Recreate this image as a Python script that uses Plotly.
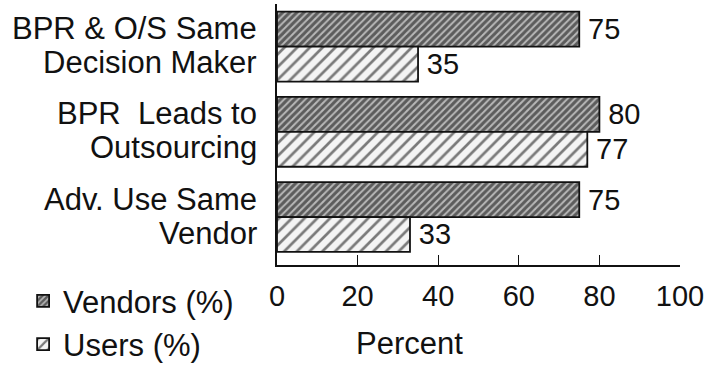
import plotly.graph_objects as go

# Survey items (two-line labels) and percentages per respondent group
categories = ["BPR & O/S Same Decision Maker", "BPR  Leads to Outsourcing", "Adv. Use Same Vendor"]
label_lines = [["BPR & O/S Same", "Decision Maker"],
               ["BPR  Leads to", "Outsourcing"],
               ["Adv. Use Same", "Vendor"]]
vendors = [75, 80, 75]
users = [35, 77, 33]
x_ticks = [0, 20, 40, 60, 80, 100]

FONT = "Liberation Sans, Arial, Helvetica, sans-serif"
INK = "#111111"

fig = go.Figure()
fig.add_trace(go.Bar(
    name="Vendors (%)", y=categories, x=vendors, orientation="h",
    marker=dict(color="white", line=dict(color=INK, width=1.8),
                pattern=dict(shape="/", size=5, solidity=0.6,
                             fgcolor="#000000", bgcolor="#b8b8b8")),
    text=vendors, texttemplate="\u2009%{text}", textposition="outside",
    cliponaxis=False,
    textfont=dict(family=FONT, size=29, color=INK),
))
fig.add_trace(go.Bar(
    name="Users (%)", y=categories, x=users, orientation="h",
    marker=dict(color="white", line=dict(color=INK, width=1.8),
                pattern=dict(shape="/", size=9, solidity=0.3,
                             fgcolor="#000000", bgcolor="#f4f4f4")),
    text=users, texttemplate="\u2009%{text}", textposition="outside",
    cliponaxis=False,
    textfont=dict(family=FONT, size=29, color=INK),
))

# Category labels, one annotation per line for tight line spacing
annotations = []
for cat, lines in zip(categories, label_lines):
    for i, line in enumerate(lines):
        annotations.append(dict(
            text=line, xref="paper", x=0, yref="y", y=cat,
            xanchor="right", yanchor="middle", xshift=-18,
            yshift=18 if i == 0 else -16, showarrow=False,
            font=dict(family=FONT, size=31, color=INK),
        ))
annotations.append(dict(
    text="Percent", xref="paper", x=0.33, yref="paper", y=-0.30,
    xanchor="center", yanchor="middle", showarrow=False,
    font=dict(family=FONT, size=31, color=INK),
))

fig.update_layout(
    width=723, height=368,
    margin=dict(l=277, r=43, t=4, b=103, autoexpand=False),
    paper_bgcolor="white", plot_bgcolor="white",
    barmode="group", bargap=0.18, bargroupgap=0,
    font=dict(family=FONT, color=INK),
    showlegend=True,
    legend=dict(x=-0.63, y=-0.035, xanchor="left", yanchor="top",
                xref="paper", yref="paper", traceorder="normal",
                font=dict(family=FONT, size=31, color=INK),
                bgcolor="rgba(0,0,0,0)"),
    annotations=annotations,
)
fig.update_xaxes(
    range=[0, 100], tickvals=x_ticks, ticktext=[str(t) for t in x_ticks],
    ticks="inside", ticklen=10, tickwidth=1.2, tickcolor=INK,
    showline=True, linecolor=INK, linewidth=1.5,
    showgrid=False, zeroline=False, ticklabelstandoff=4,
    tickfont=dict(family=FONT, size=29, color=INK),
)
fig.update_yaxes(
    range=[2.563, -0.5], showticklabels=False, ticks="",
    showline=True, linecolor=INK, linewidth=1.5,
    showgrid=False, zeroline=False,
)

fig.write_html("out.html")
